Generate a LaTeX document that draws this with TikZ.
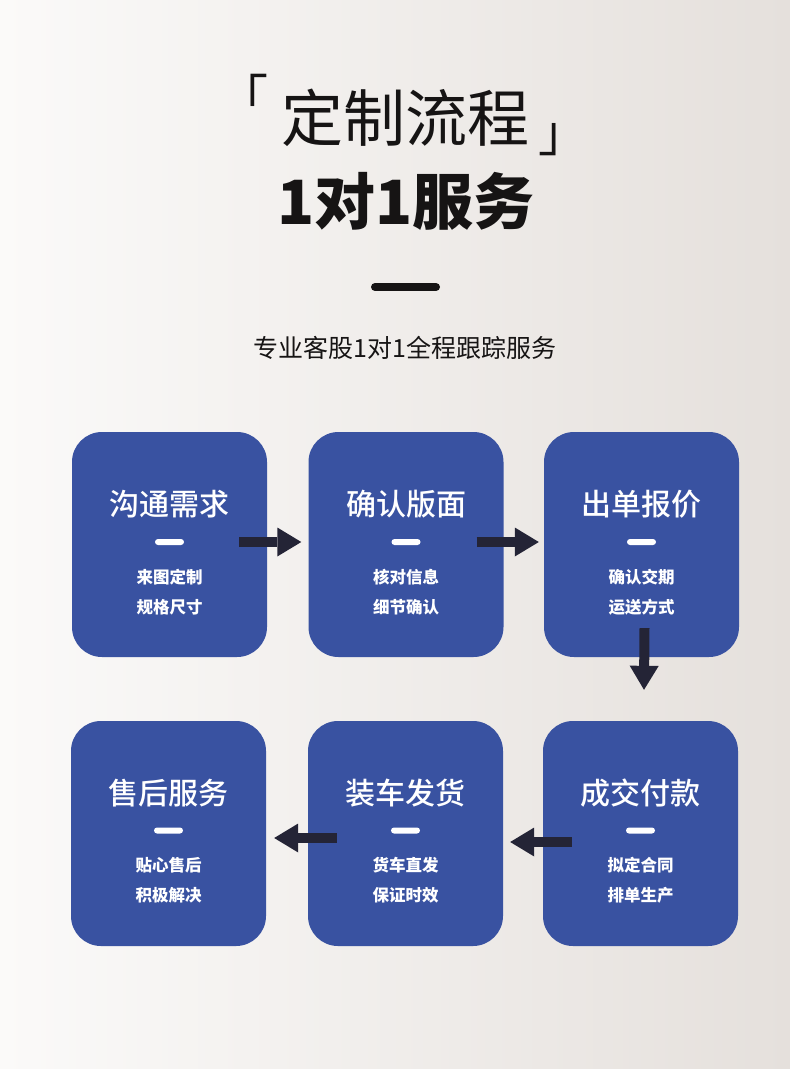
\documentclass[tikz,border=0pt]{standalone}
\usepackage{fontspec}
\newfontfamily\cjk{Noto Sans CJK SC}
\newfontfamily\cjkmid{Noto Sans CJK SC Medium}
\usetikzlibrary{arrows.meta,positioning}
\definecolor{bgleft}{RGB}{251,250,249}
\definecolor{bgright}{RGB}{229,224,220}
\definecolor{cardblue}{RGB}{57,82,161}
\definecolor{arrowdark}{RGB}{36,36,54}
\definecolor{inkblack}{RGB}{22,20,20}

\begin{document}
\begin{tikzpicture} [x=1pt, y=-1pt,
  card/.style={fill=cardblue, rounded corners=30pt, minimum width=195pt, minimum height=225pt, inner sep=0pt},
  cardtitle/.style={text=white, inner sep=0pt, font=\cjkmid\fontsize{30}{30}\selectfont},
  cardline/.style={text=white, inner sep=0pt, font=\cjk\bfseries\fontsize{16.5}{16.5}\selectfont},
  cardbar/.style={fill=white, rounded corners=3pt, minimum width=29pt, minimum height=6pt, inner sep=0pt},
  flow/.style={draw=arrowdark, line width=10pt, -{Triangle[length=24pt, width=29pt, line width=0pt]}},
  bracket/.style={text=inkblack, inner sep=0pt, font=\cjk\fontsize{50}{50}\selectfont}]
%\draw [help lines, step=10pt](0,0) grid (790,1069);
\shade [left color=bgleft, right color=bgright] (0,0) rectangle (790,1069);

% heading
\node [bracket, anchor=north] (lq) at (243,74) {「};
\node [bracket, anchor=south] (rq) at (563,156) {」};
\node [text=inkblack, inner sep=0pt, font=\cjk\fontsize{62}{62}\selectfont] (head) at (405,118) {定制流程};
\node [text=inkblack, inner sep=0pt, font=\cjk\bfseries\fontsize{61}{61}\selectfont] (sub) at (406,201) {1对1服务};
\draw [inkblack, line width=8pt, line cap=round] (375,287) -- (436,287);
\node [text=inkblack, inner sep=0pt, font=\cjk\fontsize{25}{25}\selectfont] (slogan) at (405,348) {专业客股1对1全程跟踪服务};

% first row
\node [card] (c1) at (169.5,544.5) {};
\node [cardtitle] (c1t) at ([yshift=40pt]c1.center) {沟通需求};
\node [cardbar] at ([yshift=2.5pt]c1.center) {};
\node [cardline] at ([yshift=-32.5pt]c1.center) {来图定制};
\node [cardline] at ([yshift=-62.5pt]c1.center) {规格尺寸};

\node [card] (c2) at (406,544.5) {};
\node [cardtitle] (c2t) at ([yshift=40pt]c2.center) {确认版面};
\node [cardbar] at ([yshift=2.5pt]c2.center) {};
\node [cardline] at ([yshift=-32.5pt]c2.center) {核对信息};
\node [cardline] at ([yshift=-62.5pt]c2.center) {细节确认};

\node [card] (c3) at (641.5,544.5) {};
\node [cardtitle] (c3t) at ([yshift=40pt]c3.center) {出单报价};
\node [cardbar] at ([yshift=2.5pt]c3.center) {};
\node [cardline] at ([yshift=-32.5pt]c3.center) {确认交期};
\node [cardline] at ([yshift=-62.5pt]c3.center) {运送方式};

% second row
\node [card] (c4) at (168.5,833.5) {};
\node [cardtitle] (c4t) at ([yshift=40pt]c4.center) {售后服务};
\node [cardbar] at ([yshift=3pt]c4.center) {};
\node [cardline] at ([yshift=-31.5pt]c4.center) {贴心售后};
\node [cardline] at ([yshift=-61.5pt]c4.center) {积极解决};

\node [card] (c5) at (405.5,833.5) {};
\node [cardtitle] (c5t) at ([yshift=40pt]c5.center) {装车发货};
\node [cardbar] at ([yshift=3pt]c5.center) {};
\node [cardline] at ([yshift=-31.5pt]c5.center) {货车直发};
\node [cardline] at ([yshift=-61.5pt]c5.center) {保证时效};

\node [card] (c6) at (640.5,833.5) {};
\node [cardtitle] (c6t) at ([yshift=40pt]c6.center) {成交付款};
\node [cardbar] at ([yshift=3pt]c6.center) {};
\node [cardline] at ([yshift=-31.5pt]c6.center) {拟定合同};
\node [cardline] at ([yshift=-61.5pt]c6.center) {排单生产};

% arrows
\draw [flow] ([xshift=-28pt, yshift=2.5pt]c1.east) -- ([xshift=-7pt, yshift=2.5pt]c2.west);
\draw [flow] ([xshift=-27pt, yshift=2.5pt]c2.east) -- ([xshift=-5pt, yshift=2.5pt]c3.west);
\draw [flow] ([xshift=3pt, yshift=29pt]c3.south) -- ([xshift=3.5pt, yshift=31pt]c6.north);
\draw [flow] ([xshift=29pt, yshift=-8.5pt]c6.west) -- ([xshift=7pt, yshift=-8.5pt]c5.east);
\draw [flow] ([xshift=29pt, yshift=-4.5pt]c5.west) -- ([xshift=8pt, yshift=-4.5pt]c4.east);
\end{tikzpicture}
\end{document}
